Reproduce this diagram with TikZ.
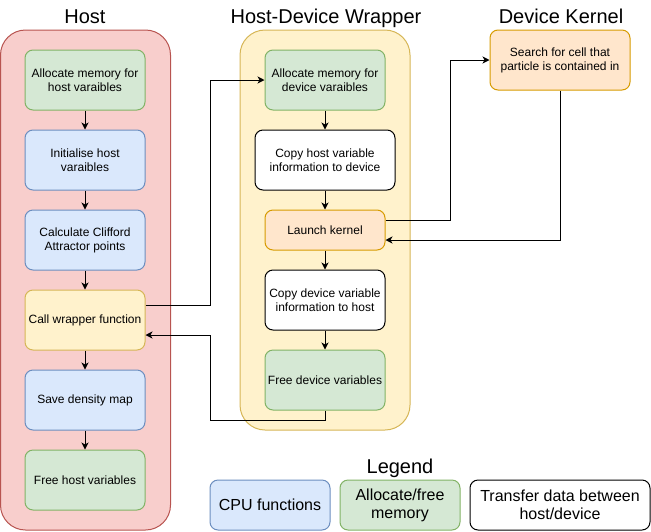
\documentclass[tikz,border=0pt]{standalone}
\usepackage{fontspec}
\setmainfont{Liberation Sans}
\usetikzlibrary{arrows.meta, calc}

\definecolor{greenfill}{HTML}{D5E8D4}
\definecolor{greenline}{HTML}{82B366}
\definecolor{bluefill}{HTML}{DAE8FC}
\definecolor{blueline}{HTML}{6C8EBF}
\definecolor{yellowfill}{HTML}{FFF2CC}
\definecolor{yellowline}{HTML}{D6B656}
\definecolor{orangefill}{HTML}{FFE6CC}
\definecolor{orangeline}{HTML}{D79B00}
\definecolor{redfill}{HTML}{F8CECC}
\definecolor{redline}{HTML}{B85450}

\tikzset{
  box/.style={draw, line width=1pt, rounded corners=8pt, minimum width=120pt, minimum height=60pt,
    align=center, inner sep=0pt, font=\fontsize{12}{14}\selectfont},
  membox/.style={box, fill=greenfill, draw=greenline},
  cpubox/.style={box, fill=bluefill, draw=blueline},
  callbox/.style={box, fill=yellowfill, draw=yellowline},
  kernbox/.style={box, fill=orangefill, draw=orangeline},
  copybox/.style={box, fill=white, draw=black},
  group/.style={draw, line width=1pt, rounded corners=25pt, minimum width=170pt},
  title/.style={anchor=base, font=\fontsize{20}{24}\selectfont},
  legbox/.style={font=\fontsize{16}{18}\selectfont, minimum height=50pt},
  arr/.style={line width=1pt, -{Stealth[length=7pt, width=7pt, inset=2pt]}},
}

\begin{document}
\begin{tikzpicture}[x=1pt, y=-1pt]
  \useasboundingbox (0,0) rectangle (651,531);

  % containers
  \node[group, fill=redfill, draw=redline, minimum height=500pt] (hostgrp) at (85.5,280) {};
  \node[group, fill=yellowfill, draw=yellowline, minimum height=400pt] (wrapgrp) at (325,230) {};
  \node[title] (hosttitle) at (85,23) {Host};
  \node[title] (wraptitle) at (326,23) {Host-Device Wrapper};
  \node[title] (kerntitle) at (561,23) {Device Kernel};

  % host
  \node[membox] (hostalloc) at (85,80) {Allocate memory for\\host varaibles};
  \node[cpubox] (hostinit) at (85,160) {Initialise host\\varaibles};
  \node[cpubox] (clifford) at (85,240) {Calculate Clifford\\Attractor points};
  \node[callbox] (call) at (85,320) {Call wrapper function};
  \node[cpubox] (save) at (85,400) {Save density map};
  \node[membox] (hostfree) at (85,480) {Free host variables};

  % wrapper
  \node[membox] (devalloc) at (325,80) {Allocate memory for\\device varaibles};
  \node[copybox, minimum width=140pt] (todev) at (325,160) {Copy host variable\\information to device};
  \node[kernbox, minimum height=40pt] (launch) at (325,230) {Launch kernel};
  \node[copybox] (tohost) at (325,300) {Copy device variable\\information to host};
  \node[membox] (devfree) at (325,380) {Free device variables};

  % kernel
  \node[kernbox, minimum width=140pt] (kernel) at (560,60) {Search for cell that\\particle is contained in};

  % legend
  \node[title] (legtitle) at (400,473) {Legend};
  \node[cpubox, legbox] (legcpu) at (270,505) {CPU functions};
  \node[membox, legbox] (legmem) at (400,505) {Allocate/free\\memory};
  \node[copybox, legbox, minimum width=180pt] (legcopy) at (560,505) {Transfer data between\\host/device};

  % flow
  \foreach \a/\b in {hostalloc/hostinit, hostinit/clifford, clifford/call, call/save, save/hostfree,
                     devalloc/todev, todev/launch, launch/tohost, tohost/devfree}
    \draw[arr] (\a) -- (\b);

  \draw[arr] ([yshift=15pt]call.east) -- ++(65,0) |- (devalloc.west);
  \draw[arr] (devfree.south) -- ++(0,10) -| ($(call.east)+(65,15)$) -- ([yshift=-15pt]call.east);
  \draw[arr] ([yshift=10pt]launch.east) -- ++(65,0) |- (kernel.west);
  \draw[arr] (kernel.south) |- ([yshift=-10pt]launch.east);
\end{tikzpicture}
\end{document}
